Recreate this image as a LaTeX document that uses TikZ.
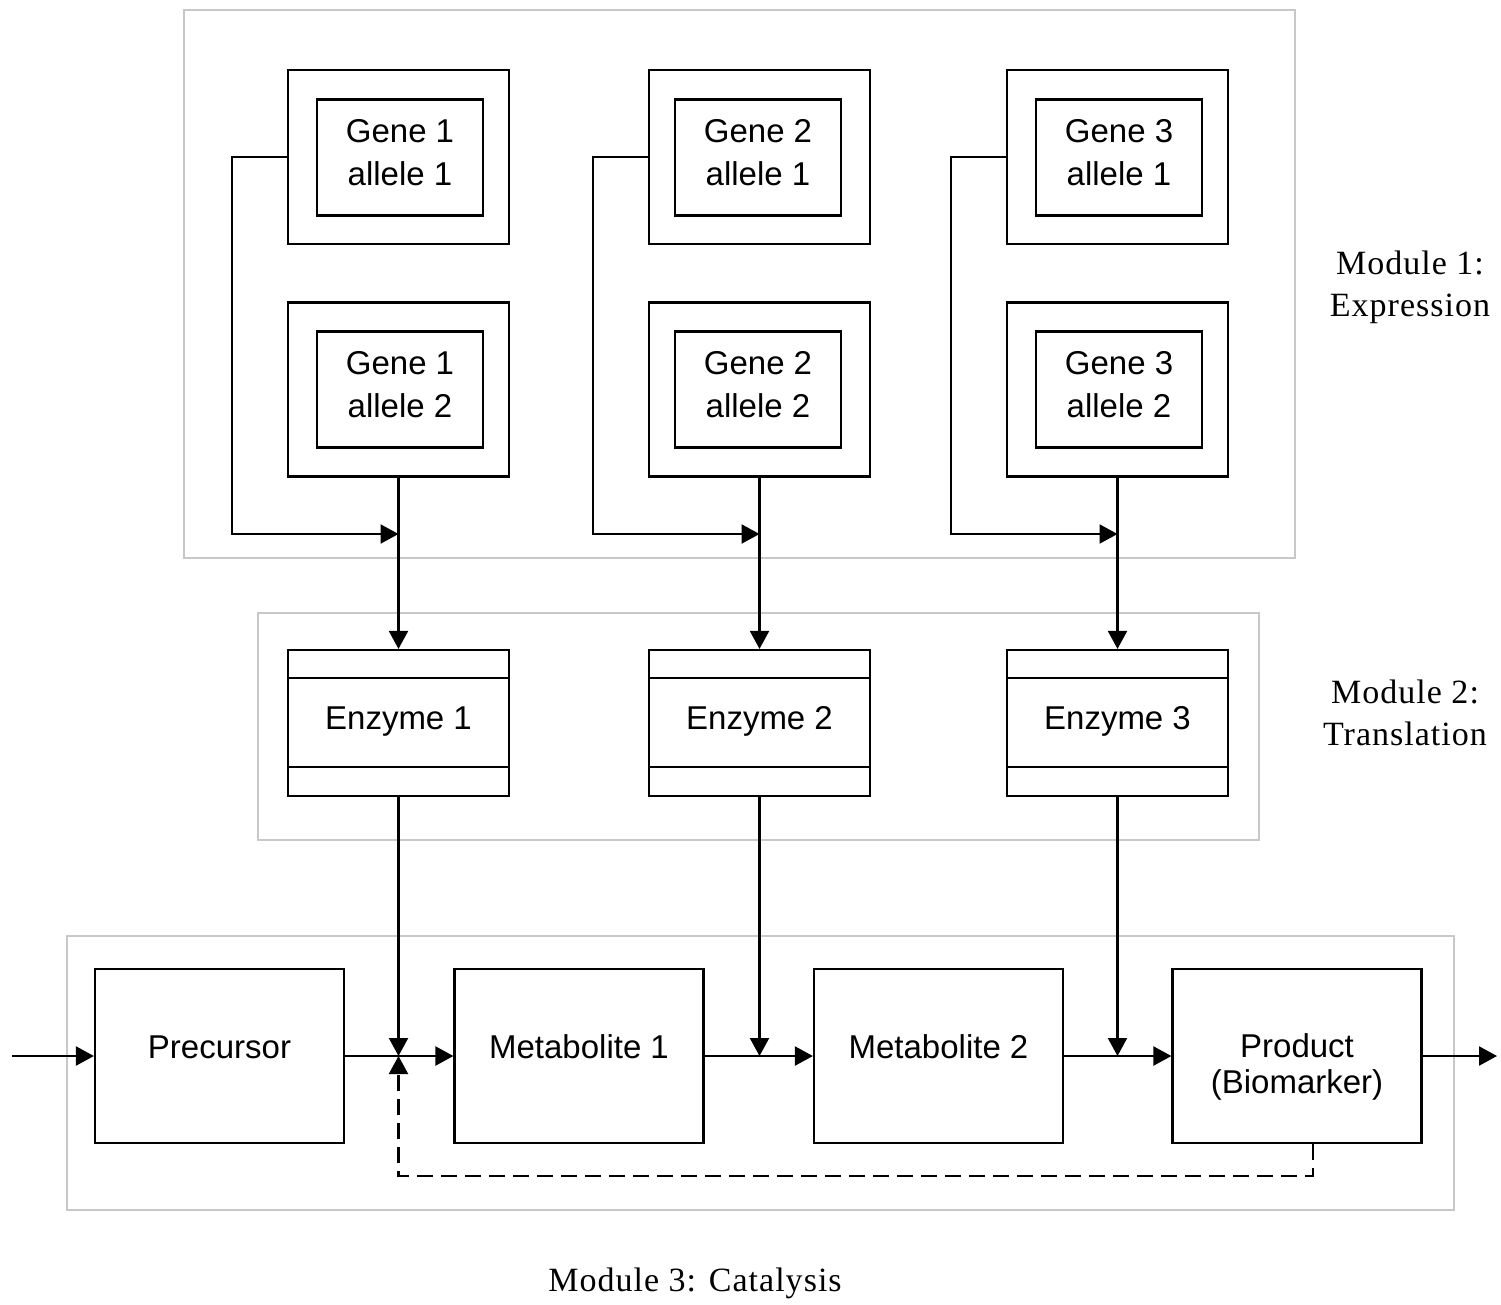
\documentclass[tikz,border=0pt]{standalone}
\usepackage{fontspec}
\setmainfont{Liberation Serif}
\newfontfamily\arialfont{Liberation Sans}
\newfontfamily\timesfont[LetterSpace=3]{Liberation Serif}
\usetikzlibrary{arrows.meta}
\definecolor{modgray}{RGB}{200,200,200}
\newcommand{\basetext}[2]{\raisebox{#1}[0pt][0pt]{#2}}
\begin{document}
\begin{tikzpicture}[x=1pt,y=-1pt,
  module/.style={draw=modgray,line width=2pt,rectangle,inner sep=0pt},
  blk/.style={draw=black,line width=2.2pt,rectangle,inner sep=0pt},
  outerbox/.style={blk,minimum width=221pt,minimum height=174pt},
  innerbox/.style={blk,minimum width=166pt,minimum height=116pt,
     font=\arialfont\fontsize{33}{43}\selectfont},
  enzbox/.style={blk,minimum width=221pt,minimum height=146pt,
     font=\arialfont\fontsize{33}{40}\selectfont,
     path picture={
       \draw[line width=2.2pt] ([yshift=-28pt]path picture bounding box.north west) -- ([yshift=-28pt]path picture bounding box.north east);
       \draw[line width=2.2pt] ([yshift=29pt]path picture bounding box.south west) -- ([yshift=29pt]path picture bounding box.south east);
     }},
  metbox/.style={blk,minimum width=249pt,minimum height=174pt,
     font=\arialfont\fontsize{33}{36}\selectfont},
  conn/.style={line width=2.2pt,-{Triangle[length=18pt,width=19pt]}},
  dashconn/.style={conn,dash pattern=on 16pt off 8pt},
  modlabel/.style={align=center,font=\timesfont\fontsize{34}{42}\selectfont}
]
\useasboundingbox (0,0) rectangle (1501,1304);

% module frames
\node[module,minimum width=1111pt,minimum height=548pt] (mod1) at (739.5,284) {};
\node[module,minimum width=1001pt,minimum height=227pt] (mod2) at (758.5,726.5) {};
\node[module,minimum width=1387pt,minimum height=274pt] (mod3) at (760.5,1073) {};

% gene boxes
\foreach \c/\x/\xi in {1/398.5/400, 2/759.5/758, 3/1117.5/1119} {
  \node[outerbox] (g\c a) at (\x,157) {};
  \node[innerbox] (g\c ai) at (\xi,157.5) {\basetext{15.5pt}{\begin{tabular}[t]{@{}c@{}}Gene \c\\allele 1\end{tabular}}};
  \node[outerbox] (g\c b) at (\x,389.5) {};
  \node[innerbox] (g\c bi) at (\xi,389.5) {\basetext{15.5pt}{\begin{tabular}[t]{@{}c@{}}Gene \c\\allele 2\end{tabular}}};
  \node[enzbox] (e\c) at (\x,723) {\basetext{-6pt}{Enzyme \c}};
  \coordinate (j\c) at (g\c b.south |- 0,534);
  \draw[conn] (g\c a.west) -- ++(-55,0) |- (j\c);
  \draw[conn] (g\c b.south) -- (e\c.north);
}

% pathway boxes
\node[metbox] (pre) at (219.5,1056) {\basetext{-2pt}{Precursor}};
\node[metbox] (met1) at (579,1056) {\basetext{-2pt}{Metabolite 1}};
\node[metbox] (met2) at (938.5,1056) {\basetext{-2pt}{Metabolite 2}};
\node[metbox] (prod) at (1297,1056) {\basetext{-1pt}{\begin{tabular}[t]{@{}c@{}}Product\\(Biomarker)\end{tabular}}};

\coordinate (in) at (12,1056);
\coordinate (out) at (1497,1056);
\draw[conn] (in) -- (pre.west);
\draw[conn] (pre.east) -- (met1.west);
\draw[conn] (met1.east) -- (met2.west);
\draw[conn] (met2.east) -- (prod.west);
\draw[conn] (prod.east) -- (out);

\draw[conn] (e1.south) -- (e1.south |- pre.east);
\draw[conn] (e2.south) -- (e2.south |- met1.east);
\draw[conn] (e3.south) -- (e3.south |- met2.east);

% feedback
\coordinate (fb) at ([xshift=16pt]prod.south);
\draw[dashconn] (fb) -- ++(0,32) -| (e1.south |- pre.east);

% labels
\node[modlabel] (lab1) at (1410,287) {Module 1:\\Expression};
\node[modlabel] (lab2) at (1405,713) {Module 2:\\Translation};
\node[modlabel] (lab3) at (695,1283) {Module 3: Catalysis};
\end{tikzpicture}
\end{document}
